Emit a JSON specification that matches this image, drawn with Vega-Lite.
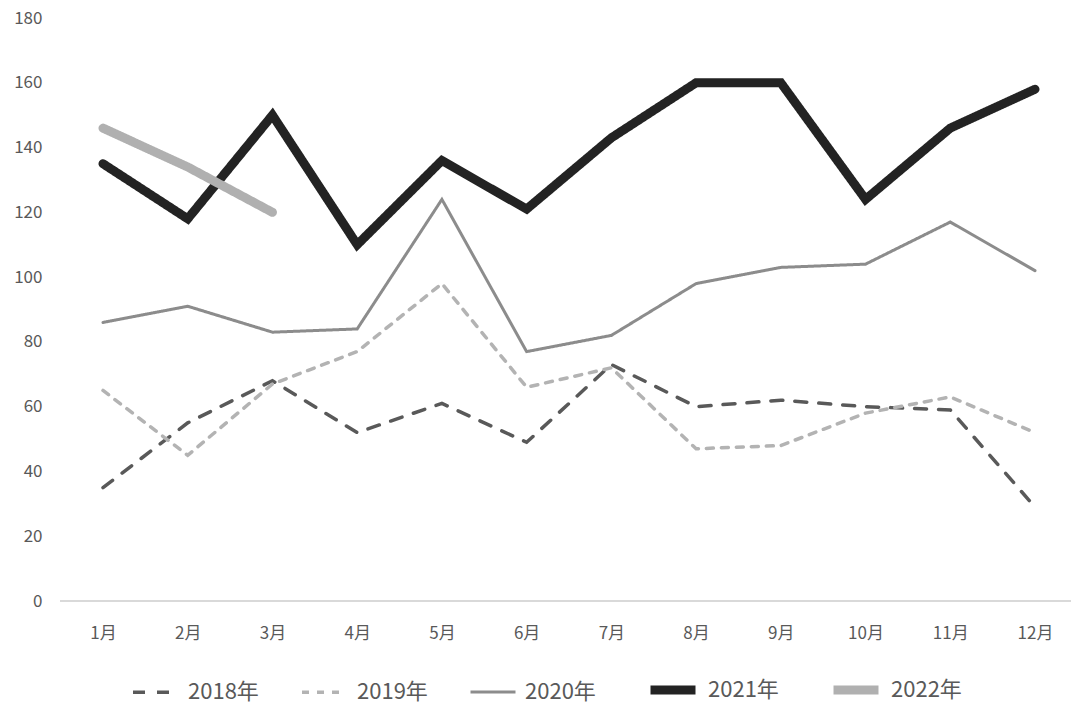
{
  "$schema": "https://vega.github.io/schema/vega-lite/v6.json",
  "autosize": "none",
  "width": 1011,
  "height": 583,
  "padding": {"left": 60, "top": 18, "right": 0, "bottom": 103},
  "background": "white",
  "config": {
    "view": {"stroke": null},
    "font": "Noto Sans CJK SC"
  },
  "data": {
    "values": [
      {"month": "1月", "year": "2018年", "value": 35},
      {"month": "2月", "year": "2018年", "value": 55},
      {"month": "3月", "year": "2018年", "value": 68},
      {"month": "4月", "year": "2018年", "value": 52},
      {"month": "5月", "year": "2018年", "value": 61},
      {"month": "6月", "year": "2018年", "value": 49},
      {"month": "7月", "year": "2018年", "value": 73},
      {"month": "8月", "year": "2018年", "value": 60},
      {"month": "9月", "year": "2018年", "value": 62},
      {"month": "10月", "year": "2018年", "value": 60},
      {"month": "11月", "year": "2018年", "value": 59},
      {"month": "12月", "year": "2018年", "value": 29},
      {"month": "1月", "year": "2019年", "value": 65},
      {"month": "2月", "year": "2019年", "value": 45},
      {"month": "3月", "year": "2019年", "value": 67},
      {"month": "4月", "year": "2019年", "value": 77},
      {"month": "5月", "year": "2019年", "value": 98},
      {"month": "6月", "year": "2019年", "value": 66},
      {"month": "7月", "year": "2019年", "value": 72},
      {"month": "8月", "year": "2019年", "value": 47},
      {"month": "9月", "year": "2019年", "value": 48},
      {"month": "10月", "year": "2019年", "value": 58},
      {"month": "11月", "year": "2019年", "value": 63},
      {"month": "12月", "year": "2019年", "value": 52},
      {"month": "1月", "year": "2020年", "value": 86},
      {"month": "2月", "year": "2020年", "value": 91},
      {"month": "3月", "year": "2020年", "value": 83},
      {"month": "4月", "year": "2020年", "value": 84},
      {"month": "5月", "year": "2020年", "value": 124},
      {"month": "6月", "year": "2020年", "value": 77},
      {"month": "7月", "year": "2020年", "value": 82},
      {"month": "8月", "year": "2020年", "value": 98},
      {"month": "9月", "year": "2020年", "value": 103},
      {"month": "10月", "year": "2020年", "value": 104},
      {"month": "11月", "year": "2020年", "value": 117},
      {"month": "12月", "year": "2020年", "value": 102},
      {"month": "1月", "year": "2021年", "value": 135},
      {"month": "2月", "year": "2021年", "value": 118},
      {"month": "3月", "year": "2021年", "value": 150},
      {"month": "4月", "year": "2021年", "value": 110},
      {"month": "5月", "year": "2021年", "value": 136},
      {"month": "6月", "year": "2021年", "value": 121},
      {"month": "7月", "year": "2021年", "value": 143},
      {"month": "8月", "year": "2021年", "value": 160},
      {"month": "9月", "year": "2021年", "value": 160},
      {"month": "10月", "year": "2021年", "value": 124},
      {"month": "11月", "year": "2021年", "value": 146},
      {"month": "12月", "year": "2021年", "value": 158},
      {"month": "1月", "year": "2022年", "value": 146},
      {"month": "2月", "year": "2022年", "value": 134},
      {"month": "3月", "year": "2022年", "value": 120}
    ]
  },
  "layer": [
    {
      "mark": {"type": "rule", "color": "#d9d9d9", "strokeWidth": 1.5},
      "encoding": {"y": {"datum": 0, "type": "quantitative"}}
    },
    {
      "mark": {"type": "line", "strokeCap": "round", "strokeJoin": "miter"},
      "encoding": {
        "x": {
          "field": "month",
          "type": "ordinal",
          "sort": ["1月","2月","3月","4月","5月","6月","7月","8月","9月","10月","11月","12月"],
          "scale": {"type": "point", "range": [43, 975], "padding": 0},
          "axis": {
            "title": null,
            "labelAngle": 0,
            "ticks": false,
            "domain": false,
            "labelFontSize": 17,
            "labelColor": "#595959",
            "labelPadding": 24,
            "grid": false
          }
        },
        "y": {
          "field": "value",
          "type": "quantitative",
          "scale": {"domain": [0, 180], "nice": false},
          "axis": {
            "title": null,
            "values": [0, 20, 40, 60, 80, 100, 120, 140, 160, 180],
            "ticks": false,
            "domain": false,
            "grid": false,
            "labelFontSize": 17,
            "labelColor": "#595959",
            "labelPadding": 18
          }
        },
        "color": {
          "field": "year",
          "type": "nominal",
          "scale": {
            "domain": ["2018年","2019年","2020年","2021年","2022年"],
            "range": ["#595959","#b3b3b3","#8c8c8c","#232323","#b0b0b0"]
          },
          "legend": {
            "title": null,
            "orient": "none",
            "legendX": 71,
            "legendY": 645,
            "direction": "horizontal",
            "symbolType": "stroke",
            "symbolSize": 2025,
            "labelFontSize": 22,
            "labelColor": "#595959",
            "labelOffset": 8,
            "columnPadding": 36
          }
        },
        "strokeDash": {
          "field": "year",
          "type": "nominal",
          "scale": {
            "domain": ["2018年","2019年","2020年","2021年","2022年"],
            "range": [[12, 12], [7, 8], [1, 0], [1, 0], [1, 0]]
          },
          "legend": null
        },
        "strokeWidth": {
          "field": "year",
          "type": "nominal",
          "scale": {
            "type": "ordinal",
            "domain": ["2018年","2019年","2020年","2021年","2022年"],
            "range": [3.5, 3.5, 3, 9, 9]
          },
          "legend": null
        }
      }
    }
  ]
}
